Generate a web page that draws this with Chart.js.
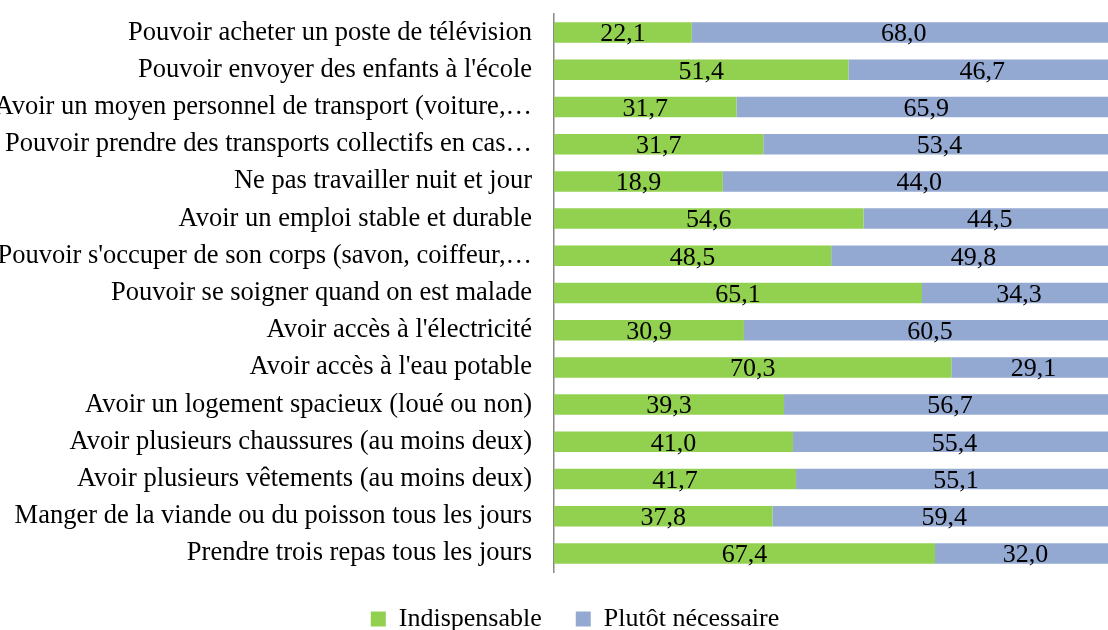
<!DOCTYPE html>
<html lang="fr">
<head>
  <meta charset="UTF-8">
  <title>Biens et conditions indispensables</title>
  <script src="https://cdn.jsdelivr.net/npm/chart.js"></script>
  <style>
    html, body { margin: 0; padding: 0; background: #fff; overflow: hidden; }
    #chart { display: block; }
  </style>
</head>
<body>
  <canvas id="chart" width="1108" height="630"></canvas>

  <script>
    // Data (percent of respondents)
    const categories = [
      "Pouvoir acheter un poste de télévision",
      "Pouvoir envoyer des enfants à l'école",
      "Avoir un moyen personnel de transport (voiture,…",
      "Pouvoir prendre des transports collectifs en cas…",
      "Ne pas travailler nuit et jour",
      "Avoir un emploi stable et durable",
      "Pouvoir s'occuper de son corps (savon, coiffeur,…",
      "Pouvoir se soigner quand on est malade",
      "Avoir accès à l'électricité",
      "Avoir accès à l'eau potable",
      "Avoir un logement spacieux (loué ou non)",
      "Avoir plusieurs chaussures (au moins deux)",
      "Avoir plusieurs vêtements (au moins deux)",
      "Manger de la viande ou du poisson tous les jours",
      "Prendre trois repas tous les jours"
    ];
    const indispensable = [22.1, 51.4, 31.7, 31.7, 18.9, 54.6, 48.5, 65.1, 30.9, 70.3, 39.3, 41.0, 41.7, 37.8, 67.4];
    const plutotNecessaire = [68.0, 46.7, 65.9, 53.4, 44.0, 44.5, 49.8, 34.3, 60.5, 29.1, 56.7, 55.4, 55.1, 59.4, 32.0];

    // the original is a 100 % stacked bar: each row is scaled to its own total
    const totals = indispensable.map((v, i) => v + plutotNecessaire[i]);
    const share = arr => arr.map((v, i) => v / totals[i] * 100);

    const serif = '"Liberation Serif", "Times New Roman", serif';

    // Value labels centred in each bar segment (comma decimal separator)
    const barLabels = {
      id: 'barLabels',
      afterLayout(chart) {
        // legend is a little right of centre in the original
        chart.legend.left += 42;
      },
      afterDatasetsDraw(chart) {
        const ctx = chart.ctx;
        ctx.save();
        ctx.font = '26px ' + serif;
        ctx.fillStyle = '#000';
        ctx.textAlign = 'center';
        ctx.textBaseline = 'middle';
        chart.data.datasets.forEach((ds, i) => {
          chart.getDatasetMeta(i).data.forEach((bar, j) => {
            const p = bar.getProps(['x', 'y', 'base'], true);
            const txt = ds.raw[j].toFixed(1).replace('.', ',');
            ctx.fillText(txt, (p.x + p.base) / 2, p.y + 2);
          });
        });
        ctx.restore();
      }
    };

    new Chart(document.getElementById('chart'), {
      type: 'bar',
      data: {
        labels: categories,
        datasets: [
          {
            label: 'Indispensable',
            data: share(indispensable),
            raw: indispensable,
            backgroundColor: '#92d050',
            barPercentage: 1,
            categoryPercentage: 0.55
          },
          {
            label: 'Plutôt nécessaire',
            data: share(plutotNecessaire),
            raw: plutotNecessaire,
            backgroundColor: '#94a9d2',
            barPercentage: 1,
            categoryPercentage: 0.55
          }
        ]
      },
      options: {
        indexAxis: 'y',
        responsive: false,
        animation: false,
        layout: { padding: { top: 14, right: 0, left: 0, bottom: -12 } },
        scales: {
          x: {
            stacked: true,
            min: 0,
            max: 98.6,
            display: false
          },
          y: {
            stacked: true,
            grid: { display: false, drawTicks: false },
            border: { display: true, color: '#888', width: 1.5 },
            ticks: {
              color: '#000',
              font: { family: serif, size: 26.5 },
              padding: 22
            },
            afterFit(scale) {
              scale.width = 554;
              scale.paddingTop = 0;
              scale.paddingBottom = 0;
            }
          }
        },
        plugins: {
          legend: {
            position: 'bottom',
            labels: {
              color: '#000',
              font: { family: serif, size: 26 },
              boxWidth: 15,
              boxHeight: 15,
              padding: 34
            }
          },
          tooltip: { enabled: false }
        }
      },
      plugins: [barLabels]
    });
  </script>
</body>
</html>
